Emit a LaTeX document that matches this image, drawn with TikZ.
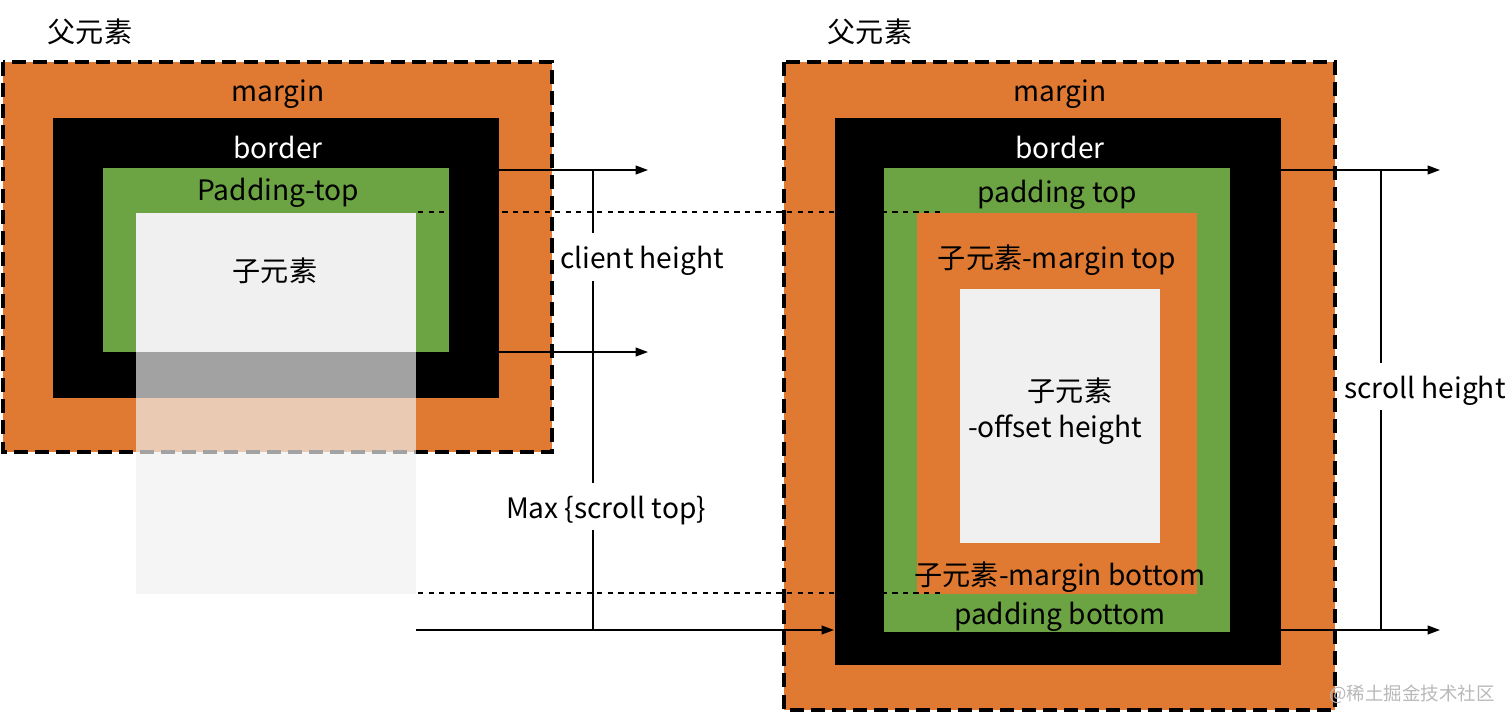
\documentclass[tikz,border=0pt]{standalone}
\usepackage{fontspec}
\setmainfont{Noto Sans CJK SC}
\usetikzlibrary{arrows.meta}
\definecolor{boxorange}{HTML}{E07A32}
\definecolor{boxgreen}{HTML}{6CA444}
\definecolor{childgray}{HTML}{F0F0F0}
\tikzset{
  outerline/.style={line width=2.2pt, dash pattern=on 8pt off 4pt},
  guide/.style={line width=0.7pt, dash pattern=on 3pt off 3pt},
  arr/.style={line width=0.8pt, -{Triangle[length=7pt,width=5pt]}},
  dimline/.style={line width=0.8pt},
  lbl/.style={font=\fontsize{16}{19}\selectfont, inner sep=0pt},
}

\begin{document}
\begin{tikzpicture}[x=0.02cm, y=-0.02cm]
	\useasboundingbox (0,0) rectangle (1512,725);
	% left: parent box
	\fill[boxorange] (3,62) rectangle (552,452);
	\fill[black] (53,118) rectangle (499,398);
	\fill[boxgreen] (103,168) rectangle (449,352);
	\draw[outerline] (3,62) rectangle (552,452);
	\fill[childgray] (136,213) rectangle (416,352);
	\fill[childgray, fill opacity=0.68] (136,352) rectangle (416,594);
	\node[lbl] (ltitle) at (90,32) {父元素};
	\node[lbl] (lmargin) at (278,94) {margin};
	\node[lbl, text=white] (lborder) at (278,147) {border};
	\node[lbl] (lpadding) at (278,193) {Padding-top};
	\node[lbl] (lchild) at (275,271) {子元素};
	% right: parent box
	\fill[boxorange] (784,62) rectangle (1335,710);
	\fill[black] (835,118) rectangle (1281,665);
	\fill[boxgreen] (884,168) rectangle (1230,632);
	\fill[boxorange] (917,213) rectangle (1197,594);
	\fill[childgray] (960,289) rectangle (1160,543);
	\draw[outerline] (784,62) rectangle (1335,710);
	\node[lbl] (rtitle) at (870,32) {父元素};
	\node[lbl] (rmargin) at (1060,94) {margin};
	\node[lbl, text=white] (rborder) at (1060,147) {border};
	\node[lbl] (rpadtop) at (1057,195) {padding top};
	\node[lbl] (rchildtop) at (1057,260) {子元素-margin top};
	\node[lbl] (rchild) at (1070,391) {子元素};
	\node[lbl] (roffset) at (1055,430) {-offset height};
	\node[lbl] (rchildbot) at (1060,577) {子元素-margin bottom};
	\node[lbl] (rpadbot) at (1060,617) {padding bottom};
	% guides
	\coordinate (gtop) at (418,212);
	\coordinate (gtopend) at (940,212);
	\coordinate (gbot) at (418,593);
	\coordinate (gbotend) at (940,593);
	\draw[guide] (gtop) -- (gtopend);
	\draw[guide] (gbot) -- (gbotend);
	% client height / scroll top
	\coordinate (ctop) at (499,170);
	\coordinate (ctopend) at (648,170);
	\coordinate (cbot) at (499,352);
	\coordinate (cbotend) at (648,352);
	\coordinate (sstart) at (416,630);
	\coordinate (send) at (834,630);
	\draw[arr] (ctop) -- (ctopend);
	\draw[arr] (cbot) -- (cbotend);
	\draw[arr] (sstart) -- (send);
	\node[lbl] (clienth) at (642,261) {client height};
	\node[lbl] (maxtop) at (606,511) {Max \{scroll top\}};
	\draw[dimline] (593,170) -- (593,233);
	\draw[dimline] (593,281) -- (593,483);
	\draw[dimline] (593,530) -- (593,630);
	% scroll height
	\coordinate (rtop) at (1281,170);
	\coordinate (rtopend) at (1440,170);
	\coordinate (rbot) at (1281,630);
	\coordinate (rbotend) at (1440,630);
	\draw[arr] (rtop) -- (rtopend);
	\draw[arr] (rbot) -- (rbotend);
	\node[lbl] (scrollh) at (1425,391) {scroll height};
	\draw[dimline] (1381,170) -- (1381,363);
	\draw[dimline] (1381,410) -- (1381,630);
	\node[font=\fontsize{10.5}{12}\selectfont, text=black!28, inner sep=0pt] (wmark) at (1412,694) {@稀土掘金技术社区};
\end{tikzpicture}
\end{document}
